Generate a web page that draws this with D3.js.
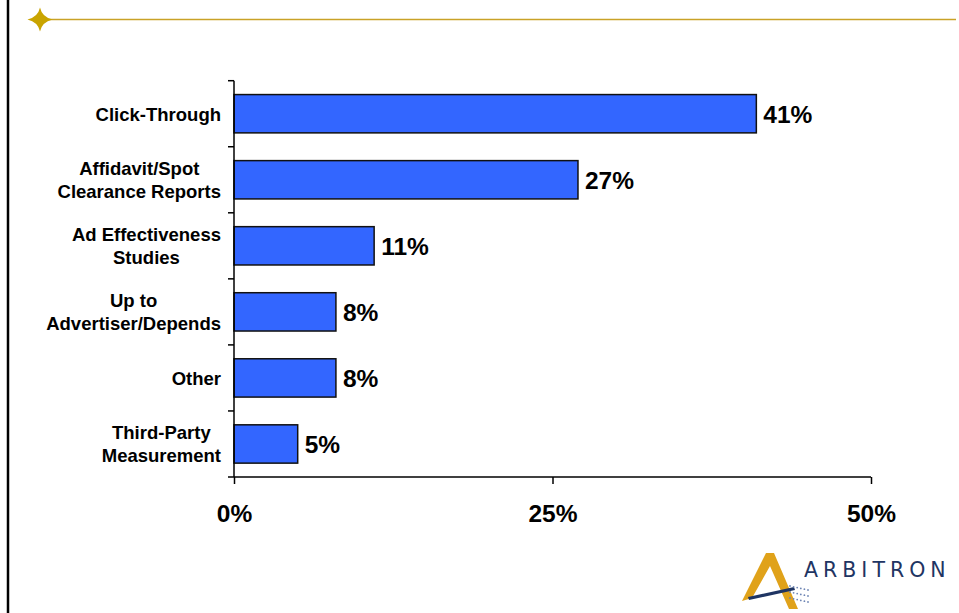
<!DOCTYPE html>
<html>
<head>
<meta charset="utf-8">
<script src="https://cdn.jsdelivr.net/npm/d3@7"></script>
<style>
  body { margin: 0; background: #fff; }
  svg { display: block; font-family: Arial, "Liberation Sans", sans-serif; }
</style>
</head>
<body>
<svg id="chart" width="959" height="613"></svg>
<script>
// categories and shares
const categories = [
  ['Click-Through'],
  ['Affidavit/Spot', 'Clearance Reports'],
  ['Ad Effectiveness', 'Studies'],
  ['Up to', 'Advertiser/Depends'],
  ['Other'],
  ['Third-Party', 'Measurement']
];
const shares = [41, 27, 11, 8, 8, 5];
const xTicks = [0, 25, 50];

const svg = d3.select('#chart');

// slide frame: left rule, gold header line with a star
svg.append('line').attr('x1', 8).attr('x2', 8).attr('y1', 0).attr('y2', 613)
  .attr('stroke', '#000').attr('stroke-width', 2.5);
svg.append('line').attr('x1', 40).attr('x2', 956).attr('y1', 19.5).attr('y2', 19.5)
  .attr('stroke', '#c9a227').attr('stroke-width', 1.5);
svg.append('path')
  .attr('d', 'M40,7.5 Q42,17 52.5,19.5 Q42,22 40,31.5 Q38,22 27.5,19.5 Q38,17 40,7.5 Z')
  .attr('fill', '#c9a400');

const plotL = 234, plotR = 871, plotT = 80.7, plotB = 477;
const x = d3.scaleLinear().domain([0, 50]).range([plotL, plotR]);
const y = d3.scaleBand().domain(d3.range(categories.length)).range([plotT, plotB])
  .paddingInner(0.42).paddingOuter(0.21);

// bars
svg.append('g').selectAll('rect').data(shares).join('rect')
  .attr('x', x(0))
  .attr('y', (d, i) => y(i))
  .attr('width', (d) => x(d) - x(0))
  .attr('height', y.bandwidth())
  .attr('fill', '#3366ff')
  .attr('stroke', '#111')
  .attr('stroke-width', 1.5);

// value labels
svg.append('g').selectAll('text').data(shares).join('text')
  .attr('x', (d) => x(d) + 7)
  .attr('y', (d, i) => y(i) + y.bandwidth() / 2 + 8.8)
  .attr('font-size', 24.5).attr('font-weight', 'bold')
  .text((d) => d + '%');

// y axis with ticks between categories
const yAxis = svg.append('g');
yAxis.append('line').attr('x1', plotL).attr('x2', plotL).attr('y1', plotT).attr('y2', plotB)
  .attr('stroke', '#000').attr('stroke-width', 1.5);
const step = (plotB - plotT) / categories.length;
yAxis.selectAll('line.tick').data(d3.range(categories.length + 1)).join('line')
  .attr('class', 'tick')
  .attr('x1', plotL - 6).attr('x2', plotL)
  .attr('y1', (d) => plotT + d * step).attr('y2', (d) => plotT + d * step)
  .attr('stroke', '#000').attr('stroke-width', 1.5);

// category labels: each block right-aligned, its lines centred in the block
const labels = svg.append('g').selectAll('text').data(categories).join('text')
  .attr('text-anchor', 'middle')
  .attr('font-size', 18.5).attr('font-weight', 'bold');
labels.each(function (lines, i) {
  const cy = y(i) + y.bandwidth() / 2;
  const start = cy - (lines.length - 1) * 11.5 + 6.8;
  const spans = d3.select(this).selectAll('tspan').data(lines).join('tspan')
    .attr('y', (d, j) => start + j * 23)
    .text((d) => d);
  const widest = d3.max(spans.nodes(), (n) => n.getComputedTextLength());
  spans.attr('x', 221 - widest / 2);
});

// x axis
const xAxis = svg.append('g').attr('transform', `translate(0,${plotB})`)
  .call(d3.axisBottom(x).tickValues(xTicks).tickSize(7).tickFormat((d) => d + '%'));
xAxis.select('.domain').attr('stroke', '#000').attr('stroke-width', 1.5)
  .attr('d', `M${plotL},0H${plotR}`);
xAxis.selectAll('.tick line').attr('stroke', '#000').attr('stroke-width', 1.5);
xAxis.selectAll('.tick text')
  .attr('font-size', 24.5).attr('font-weight', 'bold')
  .attr('font-family', 'Arial, "Liberation Sans", sans-serif')
  .attr('fill', '#000').attr('y', 45).attr('dy', 0);

// Arbitron logo
const logo = svg.append('g');
logo.append('path')
  .attr('d', 'M742,601 L766,553 L774,553 L798,609 L789,609 L770,566 L752,598 Z')
  .attr('fill', '#e0a21a');
logo.append('path')
  .attr('d', 'M748,597 L794,587 L795,590 L749,600 Z')
  .attr('fill', '#1f3563');
logo.selectAll('circle').data(d3.range(18)).join('circle')
  .attr('cx', (d) => 790 + (d % 6) * 3.6)
  .attr('cy', (d) => 586 + Math.floor(d / 6) * 6 + (d % 6) * 0.8)
  .attr('r', 0.9).attr('fill', '#6f86b5');
logo.append('text')
  .attr('x', 804).attr('y', 577)
  .attr('font-size', 20.5).attr('letter-spacing', 5)
  .attr('font-family', '"DejaVu Sans", sans-serif')
  .attr('font-weight', 500)
  .attr('fill', '#1f3563')
  .text('ARBITRON');
</script>
</body>
</html>
